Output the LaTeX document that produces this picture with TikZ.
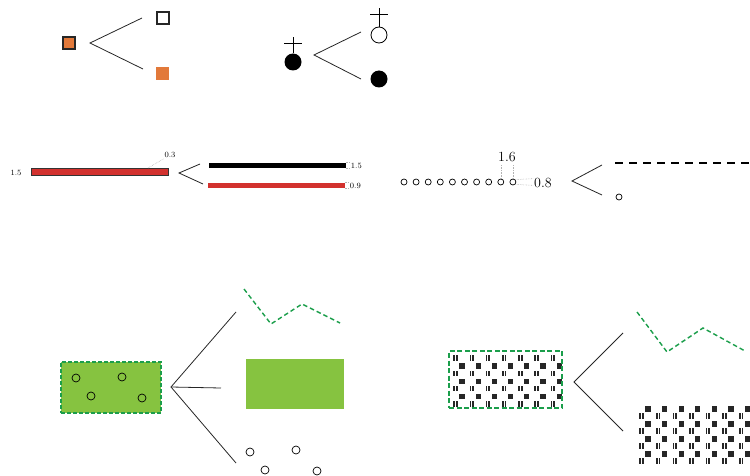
\documentclass[tikz,border=0pt]{standalone}
\usetikzlibrary{positioning}
\definecolor{ugorange}{HTML}{E2793A}
\definecolor{ugred}{HTML}{D2312E}
\definecolor{uggreen}{HTML}{86C340}
\definecolor{ugdash}{HTML}{1B9E4B}
\begin{document}
\begin{tikzpicture}[x=1pt,y=-1pt]
\useasboundingbox (0,0) rectangle (750,476);
\begin{scope}
\tikzstyle{branch} = [line width=0.8pt,black!85]
\tikzstyle{sq} = [rectangle,inner sep=0pt,minimum size=12pt]
\tikzstyle{ball} = [circle,inner sep=0pt,minimum size=17pt,fill=black]
\tikzstyle{ring} = [circle,inner sep=0pt,minimum size=6pt,draw,line width=0.7pt]
\tikzstyle{bar} = [rectangle,inner sep=0pt,minimum width=137pt]
\tikzstyle{dim} = [gray!60,densely dotted,line width=0.6pt]
\tikzstyle{small} = [font=\fontsize{8}{9}\selectfont,inner sep=1pt]
\tikzstyle{big} = [font=\fontsize{14}{16}\selectfont,inner sep=1pt]
\tikzstyle{area} = [rectangle,inner sep=0pt,fill=uggreen]
\tikzstyle{gline} = [ugdash,line width=1.4pt,dash pattern=on 4.5pt off 3pt]

% squares
\node [sq,fill=ugorange,draw=black!85,line width=2pt] (mix) at (69,43) {};
\coordinate (a1) at ([xshift=21pt]mix.center);
\coordinate (a1u) at (142,18);
\coordinate (a1d) at (143,69);
\draw [branch] (a1u) -- (a1) -- (a1d);
\node [sq,draw=black!85,line width=2pt,fill=white] (male) at (163,18) {};
\node [sq,minimum size=13pt,fill=ugorange] (female) at (162,74) {};

% circles
\node [ball] (bd) at (293,62) {};
\draw [line width=0.8pt] (bd.north) -- ([yshift=16pt]bd.north);
\draw [line width=0.8pt] ([xshift=-9pt,yshift=10pt]bd.north) -- ([xshift=9pt,yshift=10pt]bd.north);
\coordinate (a2) at (314,55);
\coordinate (a2u) at (361,32);
\coordinate (a2d) at (361,79);
\draw [branch] (a2u) -- (a2) -- (a2d);
\node [ring,minimum size=16pt,line width=0.8pt] (bu) at (379,35) {};
\draw [line width=0.8pt] (bu.north) -- ([yshift=19pt]bu.north);
\draw [line width=0.8pt] ([xshift=-9pt,yshift=12pt]bu.north) -- ([xshift=9pt,yshift=12pt]bu.north);
\node [ball] (bl) at (379,79) {};

% bars
\node [bar,minimum height=7pt,fill=ugred,draw=black!80,line width=1.1pt] (bar1) at (100,172) {};
\node [small] (l1) at (16,173) {1.5};
\node [small] (l2) at (170,155) {0.3};
\draw [dim] ([xshift=-21pt]bar1.north east) -- (l2.south west);
\coordinate (a3) at (179,173);
\coordinate (a3u) at (200,164);
\coordinate (a3d) at (203,184);
\draw [branch] (a3u) -- (a3) -- (a3d);
\node [bar,minimum height=5.5pt,fill=black] (bar2) at (277,165.5) {};
\node [bar,minimum height=5pt,fill=ugred] (bar3) at (276,185.5) {};
\node [small,anchor=west] (l3) at ([xshift=4pt]bar2.east) {1.5};
\node [small,anchor=west] (l4) at ([xshift=4pt]bar3.east) {0.9};
\draw [dim] (bar2.north east) -- (l3.west |- bar2.north);
\draw [dim] (bar2.south east) -- (l3.west |- bar2.south);
\draw [dim] (bar3.north east) -- (l4.west |- bar3.north);
\draw [dim] (bar3.south east) -- (l4.west |- bar3.south);

% dots
\node [ring] (c1) at (404,182) {};
\node [ring] (c2) at ([xshift=12.1pt]c1) {};
\node [ring] (c3) at ([xshift=12.1pt]c2) {};
\node [ring] (c4) at ([xshift=12.1pt]c3) {};
\node [ring] (c5) at ([xshift=12.1pt]c4) {};
\node [ring] (c6) at ([xshift=12.1pt]c5) {};
\node [ring] (c7) at ([xshift=12.1pt]c6) {};
\node [ring] (c8) at ([xshift=12.1pt]c7) {};
\node [ring] (c9) at ([xshift=12.1pt]c8) {};
\node [ring] (c10) at ([xshift=12.1pt]c9) {};
\node [big] (l5) at (507,157) {1.6};
\node [big] (l6) at (543,183) {0.8};
\draw [dim] (c9.north) -- ([yshift=-2pt]c9.north |- l5.south);
\draw [dim] (c10.north) -- ([yshift=-2pt]c10.north |- l5.south);
\draw [dim] (c10.north east) -- (l6.west |- c10.north);
\draw [dim] (c10.south east) -- (l6.west |- c10.south);
\coordinate (a4) at (572,181);
\coordinate (a4u) at (602,165);
\coordinate (a4d) at (602,195);
\draw [branch] (a4u) -- (a4) -- (a4d);
\coordinate (d1) at (615,163);
\coordinate (d2) at (750,163);
\draw [line width=1.4pt,dash pattern=on 8pt off 6pt] (d1) -- (d2);
\node [ring] (c11) at (619,197) {};

% green area
\node [area,minimum width=100pt,minimum height=51pt,draw=ugdash,line width=1.3pt,dash pattern=on 4pt off 2pt] (park) at (111,387.5) {};
\node [ring,minimum size=8pt] (p1) at (76,378) {};
\node [ring,minimum size=8pt] (p2) at (122,377) {};
\node [ring,minimum size=8pt] (p3) at (91,396) {};
\node [ring,minimum size=8pt] (p4) at (142,398) {};
\coordinate (a5) at (171,387);
\coordinate (a5u) at (236,312);
\coordinate (a5m) at (221,388);
\coordinate (a5d) at (236,463);
\draw [branch] (a5u) -- (a5) -- (a5d);
\draw [branch] (a5) -- (a5m);
\draw [gline] (244,289) -- (271,324) -- (302,304) -- (340,323);
\node [area,minimum width=98pt,minimum height=50pt] (lawn) at (295,384) {};
\node [ring,minimum size=8pt] (q1) at (250,452) {};
\node [ring,minimum size=8pt] (q2) at (265,470) {};
\node [ring,minimum size=8pt] (q3) at (296,450) {};
\node [ring,minimum size=8pt] (q4) at (317,471) {};

% hatched area
\foreach \i in {0,...,6} {
  \foreach \j in {0,...,3} {
    \fill [black!85] (453.3+16.2*\i,355.3+15.3*\j) rectangle ++(1.7,5.4);
    \fill [black!85] (456+16.2*\i,355.3+15.3*\j) rectangle ++(1.7,5.4);
  }
  \foreach \j in {0,1,2} {
    \fill [black!85] (459.4+16.2*\i,363.4+15.3*\j) rectangle ++(5.2,5.2);
  }
}
\node [rectangle,inner sep=0pt,minimum width=113pt,minimum height=57pt,draw=ugdash,line width=1.5pt,dash pattern=on 5pt off 2.5pt] (yard) at (505.5,379.5) {};
\coordinate (a6) at (574,382);
\coordinate (a6u) at (623,333);
\coordinate (a6d) at (623,431);
\draw [branch] (a6u) -- (a6) -- (a6d);
\draw [gline] (637,312) -- (667,352) -- (703,328) -- (745,351);
\foreach \i in {0,...,6} {
  \foreach \j in {0,...,3} {
    \fill [black!85] (639.3+16.6*\i,413.3+15*\j) rectangle ++(1.7,5.4);
    \fill [black!85] (642+16.6*\i,413.3+15*\j) rectangle ++(1.7,5.4);
    \fill [black!85] (645.4+16.6*\i,406.4+15*\j) rectangle ++(5.2,5.2);
  }
}
\end{scope}
\end{tikzpicture}
\end{document}
